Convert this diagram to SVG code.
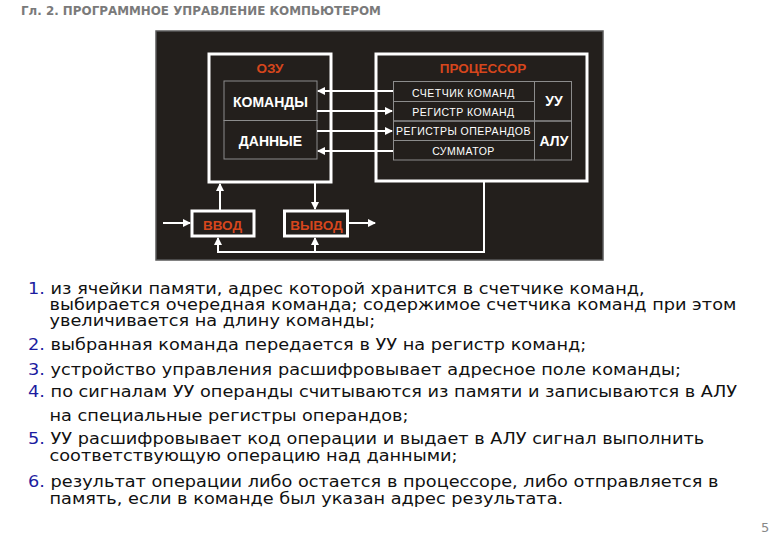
<svg xmlns="http://www.w3.org/2000/svg" width="780" height="540" viewBox="0 0 780 540">
<style>
.title{font-family:"DejaVu Sans",sans-serif;font-weight:bold;font-size:11.9px;fill:#7a7a7a}
.panel{fill:#231f1c;stroke:#5a5a5a;stroke-width:1.5}
.box{fill:#231f1c;stroke:#ffffff;stroke-width:3}
.cell{fill:none;stroke:#8c8c8c;stroke-width:1}
.lbl{font-family:"Liberation Sans",Arial,sans-serif;font-weight:bold;font-size:13.5px;fill:#d6461c;text-anchor:middle}
.wb{font-family:"Liberation Sans",Arial,sans-serif;font-weight:bold;font-size:14px;fill:#ffffff;text-anchor:middle}
.wr{font-family:"Liberation Sans",Arial,sans-serif;font-size:10.5px;letter-spacing:0.5px;fill:#ffffff;text-anchor:middle}
.io{font-family:"Liberation Sans",Arial,sans-serif;font-weight:bold;font-size:13.5px;fill:#d6461c;text-anchor:middle}
.ln{fill:none;stroke:#ffffff;stroke-width:2}
.body{font-family:"DejaVu Sans",sans-serif;font-size:16px;fill:#111111}
.num{fill:#1c1ca0}
.pg{font-family:"DejaVu Sans",sans-serif;font-size:13px;fill:#888888}
</style>
<defs>
<marker id="ah" markerWidth="8" markerHeight="8" refX="7" refY="4" orient="auto" markerUnits="userSpaceOnUse">
<path d="M0,0 L8,4 L0,8 z" fill="#ffffff"/>
</marker>
</defs>
<rect width="780" height="540" fill="#ffffff"/>
<text class="title" x="21" y="15">Гл. 2. ПРОГРАММНОЕ УПРАВЛЕНИЕ КОМПЬЮТЕРОМ</text>

<rect class="panel" x="156" y="31" width="447" height="229"/>

<g id="ozu">
<rect class="box" x="209" y="54" width="122" height="128"/>
<text class="lbl" x="270" y="72.5">ОЗУ</text>
</g>
<g id="komandy">
<rect class="cell" x="224" y="81" width="93" height="39.5"/>
<text class="wb" x="270.5" y="106.5">КОМАНДЫ</text>
</g>
<g id="dannye">
<rect class="cell" x="224" y="120.5" width="93" height="38.5"/>
<text class="wb" x="270.5" y="145.8">ДАННЫЕ</text>
</g>

<g id="processor">
<rect class="box" x="376" y="54" width="211" height="127"/>
<text class="lbl" x="483" y="73">ПРОЦЕССОР</text>
</g>
<g id="schetchik">
<rect class="cell" x="393.5" y="81.5" width="141" height="20"/>
<text class="wr" x="463.5" y="97">СЧЕТЧИК КОМАНД</text>
</g>
<g id="registr">
<rect class="cell" x="393.5" y="101.5" width="141" height="19.5"/>
<text class="wr" x="463.5" y="115.5">РЕГИСТР КОМАНД</text>
</g>
<g id="registry">
<rect class="cell" x="393.5" y="121" width="141" height="19.5"/>
<text class="wr" x="463.5" y="135.3">РЕГИСТРЫ ОПЕРАНДОВ</text>
</g>
<g id="summator">
<rect class="cell" x="393.5" y="140.5" width="141" height="19.5"/>
<text class="wr" x="463.5" y="155.3">СУММАТОР</text>
</g>
<g id="uu">
<rect class="cell" x="534.5" y="81.5" width="37" height="39.5"/>
<text class="wb" x="554" y="105.5">УУ</text>
</g>
<g id="alu">
<rect class="cell" x="534.5" y="121" width="37" height="39"/>
<text class="wb" x="554" y="145.5">АЛУ</text>
</g>

<g id="vvod">
<rect class="box" x="192" y="211" width="62" height="25"/>
<text class="io" x="222.5" y="230">ВВОД</text>
</g>
<g id="vyvod">
<rect class="box" x="284.5" y="211" width="63" height="25"/>
<text class="io" x="316.5" y="230">ВЫВОД</text>
</g>

<g id="connectors">
<line class="ln" x1="393" y1="91" x2="318" y2="91" marker-end="url(#ah)"/>
<line class="ln" x1="317" y1="111" x2="392" y2="111" marker-end="url(#ah)"/>
<line class="ln" x1="317" y1="131" x2="392" y2="131" marker-end="url(#ah)"/>
<line class="ln" x1="393" y1="151" x2="318" y2="151" marker-end="url(#ah)"/>
<line class="ln" x1="220" y1="210" x2="220" y2="184" marker-end="url(#ah)"/>
<line class="ln" x1="315" y1="183" x2="315" y2="209" marker-end="url(#ah)"/>
<line class="ln" x1="163" y1="223" x2="190" y2="223" marker-end="url(#ah)"/>
<line class="ln" x1="349" y1="223" x2="375" y2="223" marker-end="url(#ah)"/>
<polyline class="ln" points="484,182 484,252 218,252 218,238" marker-end="url(#ah)"/>
<line class="ln" x1="315" y1="252" x2="315" y2="238" marker-end="url(#ah)"/>
</g>

<g transform="scale(1.108 1)">
<text class="body" x="25.3" y="294"><tspan class="num">1.</tspan> из ячейки памяти, адрес которой хранится в счетчике команд,</text>
<text class="body" x="44.7" y="310">выбирается очередная команда; содержимое счетчика команд при этом</text>
<text class="body" x="44.7" y="326.3">увеличивается на длину команды;</text>
<text class="body" x="25.3" y="350.3"><tspan class="num">2.</tspan> выбранная команда передается в УУ на регистр команд;</text>
<text class="body" x="25.3" y="374.7"><tspan class="num">3.</tspan> устройство управления расшифровывает адресное поле команды;</text>
<text class="body" x="25.3" y="397.3"><tspan class="num">4.</tspan> по сигналам УУ операнды считываются из памяти и записываются в АЛУ</text>
<text class="body" x="44.7" y="420.7">на специальные регистры операндов;</text>
<text class="body" x="25.3" y="444.3"><tspan class="num">5.</tspan> УУ расшифровывает код операции и выдает в АЛУ сигнал выполнить</text>
<text class="body" x="44.7" y="461">соответствующую операцию над данными;</text>
<text class="body" x="25.3" y="487.3"><tspan class="num">6.</tspan> результат операции либо остается в процессоре, либо отправляется в</text>
<text class="body" x="44.7" y="504">память, если в команде был указан адрес результата.</text>
</g>
<text class="pg" x="761" y="532">5</text>
</svg>
